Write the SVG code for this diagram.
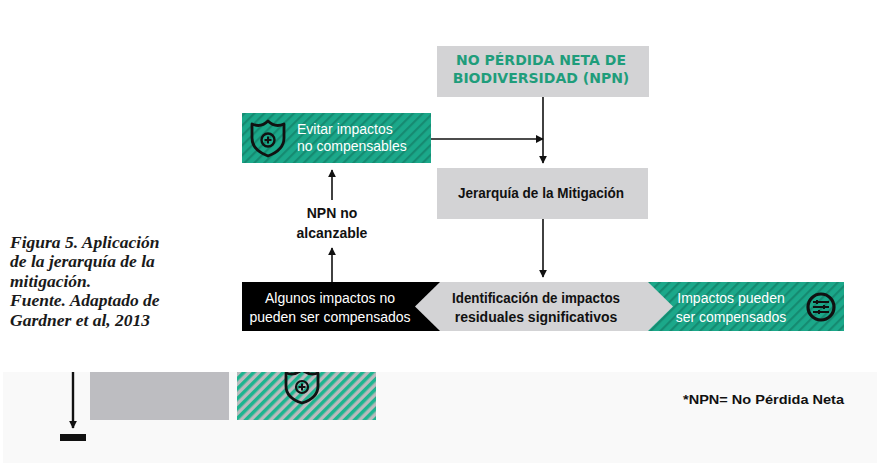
<svg xmlns="http://www.w3.org/2000/svg" width="877" height="463" viewBox="0 0 877 463">
<style>
.gbox{fill:#d3d3d5}
.sans{font-family:"Liberation Sans","Arial",sans-serif}
.wide{font-family:"DejaVu Sans","Verdana",sans-serif;font-weight:bold}
.cap{font-family:"Liberation Serif","Times New Roman",serif;font-weight:bold;font-style:italic;font-size:17.5px;fill:#1a1a1a}
.wt{fill:#ffffff;font-size:14px}
.bk{fill:#111;font-size:14px;font-weight:bold}
.line{stroke:#111;stroke-width:1.6;fill:none}
.icon{stroke:#111;stroke-width:2.8;fill:none;stroke-linejoin:round}
</style>
<defs>
<pattern id="hatchG" patternUnits="userSpaceOnUse" width="7" height="7" patternTransform="rotate(45)">
<rect width="7" height="7" fill="#1ba88a"/>
<rect width="2.2" height="7" fill="#168a71"/>
</pattern>
<pattern id="hatchGG" patternUnits="userSpaceOnUse" width="7" height="7" patternTransform="rotate(45)">
<rect width="7" height="7" fill="#b9babd"/>
<rect width="3.5" height="7" fill="#1db48f"/>
</pattern>
<marker id="ah" viewBox="0 0 10 10" refX="9" refY="5" markerWidth="8" markerHeight="8" markerUnits="userSpaceOnUse" orient="auto">
<path d="M0,0 L10,5 L0,10 Z" fill="#111"/>
</marker>
<clipPath id="clipH"><rect x="237" y="372" width="139" height="48"/></clipPath>
</defs>

<rect x="0" y="0" width="877" height="463" fill="#ffffff"/>
<rect x="3" y="372" width="874" height="91" fill="#f9f9f9"/>

<g id="caption">
<text class="cap" x="10" y="248">Figura 5. Aplicación</text>
<text class="cap" x="10" y="267">de la jerarquía de la</text>
<text class="cap" x="10" y="287">mitigación.</text>
<text class="cap" x="10" y="306">Fuente. Adaptado de</text>
<text class="cap" x="10" y="326">Gardner et al, 2013</text>
</g>

<g id="npn">
<rect class="gbox" x="437" y="46" width="212" height="51"/>
<text class="wide" x="541" y="65" text-anchor="middle" font-size="14" fill="#1f9d7b">NO PÉRDIDA NETA DE</text>
<text class="wide" x="541" y="83" text-anchor="middle" font-size="14" fill="#1f9d7b">BIODIVERSIDAD (NPN)</text>
</g>

<g id="evitar">
<rect x="242" y="113" width="189" height="50" fill="url(#hatchG)"/>
<path class="icon" d="M252,124 Q261,128 268,121 Q275,128 284,124 L284,138 Q284,150 268,156 Q252,150 252,138 Z"/>
<circle cx="268" cy="140" r="6.5" fill="none" stroke="#111" stroke-width="2.4"/>
<path d="M264.5,140 H271.5 M268,136.5 V143.5" stroke="#111" stroke-width="2"/>
<text class="sans wt" x="297" y="134">Evitar impactos</text>
<text class="sans wt" x="297" y="151">no compensables</text>
</g>

<g id="jerarquia">
<rect class="gbox" x="437" y="168" width="211" height="51"/>
<text class="sans bk" x="541" y="198" text-anchor="middle" textLength="166" lengthAdjust="spacingAndGlyphs">Jerarquía de la Mitigación</text>
</g>

<g id="npn-no">
<text class="sans bk" x="332" y="218" text-anchor="middle">NPN no</text>
<text class="sans bk" x="332" y="238" text-anchor="middle">alcanzable</text>
</g>

<g id="algunos">
<rect x="242" y="282" width="200" height="49" fill="#000"/>
<text class="sans wt" x="330" y="303" text-anchor="middle">Algunos impactos no</text>
<text class="sans wt" x="330" y="322" text-anchor="middle">pueden ser compensados</text>
</g>

<g id="impactos">
<rect x="645" y="282" width="199" height="49" fill="url(#hatchG)"/>
<text class="sans wt" x="731" y="303" text-anchor="middle">Impactos pueden</text>
<text class="sans wt" x="731" y="322" text-anchor="middle">ser compensados</text>
<circle cx="821" cy="307" r="13" fill="none" stroke="#111" stroke-width="3.2"/>
<path d="M813,302 H829 M813,307 H829 M813,312 H829" stroke="#111" stroke-width="2"/>
<path d="M817,300 V304 M824,305 V309 M819,310 V314" stroke="#111" stroke-width="2"/>
</g>

<g id="identificacion">
<polygon points="440,282 648,282 673,306.5 648,331 440,331 415,306.5" fill="#d3d3d5"/>
<text class="sans bk" x="536" y="303" text-anchor="middle" textLength="168" lengthAdjust="spacingAndGlyphs">Identificación de impactos</text>
<text class="sans bk" x="536" y="322" text-anchor="middle">residuales significativos</text>
</g>

<g id="connectors">
<line class="line" x1="543" y1="97" x2="543" y2="163" marker-end="url(#ah)"/>
<line class="line" x1="431" y1="139" x2="543" y2="139" marker-end="url(#ah)"/>
<line class="line" x1="543" y1="219" x2="543" y2="277" marker-end="url(#ah)"/>
<line class="line" x1="332" y1="200" x2="332" y2="170" marker-end="url(#ah)"/>
<line class="line" x1="332" y1="282" x2="332" y2="248" marker-end="url(#ah)"/>
</g>

<g id="legend">
<line x1="73" y1="372" x2="73" y2="428" stroke="#111" stroke-width="2.4" marker-end="url(#ah)"/>
<rect x="60" y="434" width="26" height="7" fill="#111"/>
<rect x="90" y="372" width="139" height="48" fill="#bdbdc1"/>
<rect x="237" y="372" width="139" height="48" fill="url(#hatchGG)"/>
<g clip-path="url(#clipH)">
<path class="icon" d="M286,373 Q294,376 302,370 Q310,376 318,373 L318,386 Q318,398 302,403 Q286,398 286,386 Z"/>
<circle cx="302" cy="387" r="6" fill="none" stroke="#111" stroke-width="2.2"/>
<path d="M298.5,387 H305.5 M302,383.5 V390.5" stroke="#111" stroke-width="2"/>
</g>
<text class="sans" x="683" y="404" font-size="12" font-weight="bold" fill="#111" textLength="161" lengthAdjust="spacingAndGlyphs">*NPN= No Pérdida Neta</text>
</g>
</svg>
